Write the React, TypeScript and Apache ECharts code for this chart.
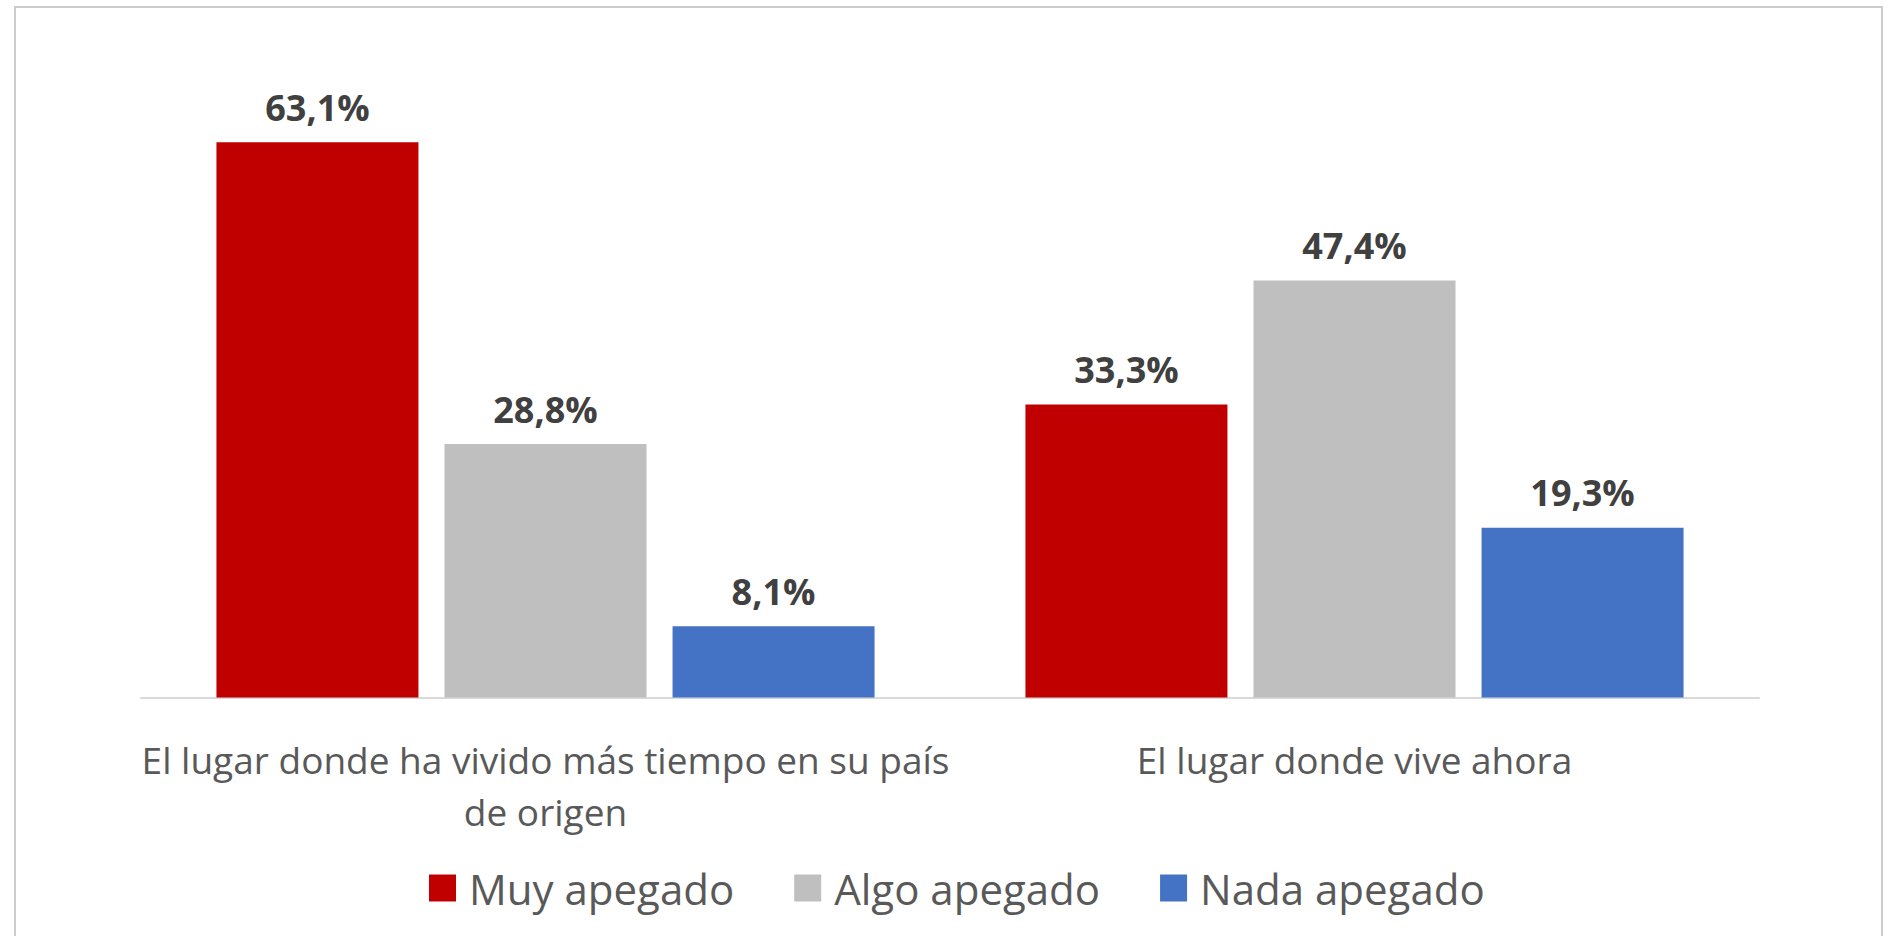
import React, { useEffect, useRef } from "react";
import * as echarts from "echarts";

const categories = [
  "El lugar donde ha vivido más tiempo en su país\nde origen",
  "El lugar donde vive ahora",
];
const seriesNames = ["Muy apegado", "Algo apegado", "Nada apegado"];
const muyApegado = [63.1, 33.3];
const algoApegado = [28.8, 47.4];
const nadaApegado = [8.1, 19.3];
const seriesColors = ["#C00000", "#BFBFBF", "#4472C4"];

const FONT = "'Open Sans', 'Noto Sans', sans-serif";

export default function App() {
  const ref = useRef<HTMLDivElement>(null);
  useEffect(() => {
    if (!ref.current) return;
    const chart = echarts.init(ref.current, undefined, { renderer: "svg" });
    const values = [muyApegado, algoApegado, nadaApegado];
    const fmt = (p: any) => Number(p.value).toFixed(1).replace(".", ",") + "%";
    chart.setOption({
      animation: false,
      backgroundColor: "#ffffff",
      textStyle: { fontFamily: FONT },
      graphic: [
        {
          type: "rect",
          shape: { x: 15, y: 7, width: 1867, height: 960 },
          style: { fill: "none", stroke: "#cccccc", lineWidth: 2 },
          silent: true,
          z: -1,
        },
      ],
      grid: { left: 141, right: 134, top: 81.6, bottom: 238.5, containLabel: false },
      xAxis: {
        type: "category",
        data: categories,
        axisTick: { show: false },
        axisLine: { lineStyle: { color: "#d9d9d9", width: 2 } },
        axisLabel: {
          color: "#595959",
          fontFamily: FONT,
          fontSize: 37,
          lineHeight: 52,
          margin: 36,
          interval: 0,
        },
      },
      yAxis: {
        type: "value",
        min: 0,
        max: 70,
        show: false,
        splitLine: { show: false },
      },
      legend: {
        data: seriesNames,
        left: 429,
        top: 867,
        padding: 0,
        icon: "rect",
        itemWidth: 27,
        itemHeight: 27,
        itemGap: 60,
        textStyle: {
          color: "#595959",
          fontFamily: FONT,
          fontSize: 42,
          lineHeight: 42,
          padding: [0, 0, 0, 8],
        },
      },
      series: seriesNames.map((name, i) => ({
        name,
        type: "bar",
        data: values[i],
        barWidth: 202,
        barGap: "12.9%",
        itemStyle: { color: seriesColors[i] },
        label: {
          show: true,
          position: "top",
          distance: 17,
          formatter: fmt,
          color: "#404040",
          fontFamily: FONT,
          fontWeight: "bold",
          fontSize: 36,
          lineHeight: 36,
        },
      })),
    });
    return () => chart.dispose();
  }, []);
  return (
    <div
      ref={ref}
      style={{ position: "fixed", left: 0, top: 0, width: 1893, height: 936 }}
    />
  );
}
